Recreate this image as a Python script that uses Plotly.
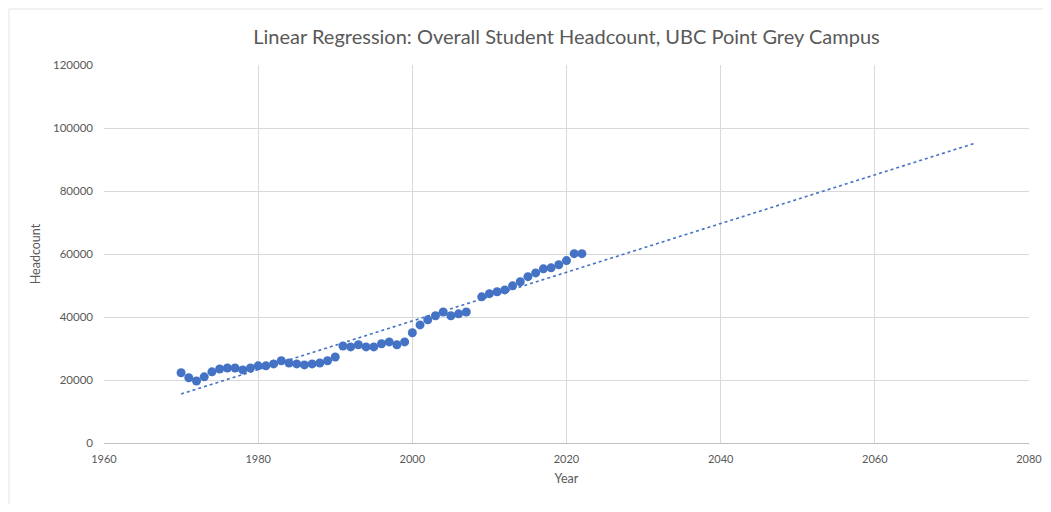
import numpy as np
import plotly.graph_objects as go

years = [1970, 1971, 1972, 1973, 1974, 1975, 1976, 1977, 1978, 1979,
         1980, 1981, 1982, 1983, 1984, 1985, 1986, 1987, 1988, 1989,
         1990, 1991, 1992, 1993, 1994, 1995, 1996, 1997, 1998, 1999,
         2000, 2001, 2002, 2003, 2004, 2005, 2006, 2007,
         2009, 2010, 2011, 2012, 2013, 2014, 2015, 2016, 2017, 2018,
         2019, 2020, 2021, 2022]
headcount = [22300, 20700, 19700, 21000, 22600, 23500, 23800, 23800, 23200, 23800,
             24500, 24500, 25100, 26100, 25400, 25100, 24800, 25100, 25400, 26100,
             27300, 30800, 30500, 31200, 30500, 30500, 31500, 32100, 31200, 32100,
             35000, 37500, 39100, 40400, 41600, 40400, 41000, 41600,
             46400, 47400, 48000, 48600, 49900, 51200, 52800, 54000, 55300, 55600,
             56600, 57900, 60100, 60100]
trend_end_year = 2073

x_ticks = [1960, 1980, 2000, 2020, 2040, 2060, 2080]
y_ticks = [0, 20000, 40000, 60000, 80000, 100000, 120000]
y_tick_labels = [str(v) for v in y_ticks]

slope, intercept = np.polyfit(years, headcount, 1)
trend_x = [years[0], trend_end_year]
trend_y = [slope * v + intercept for v in trend_x]

blue = "#4472C4"
grey_text = "#595959"
font_family = "Lato, 'Open Sans', sans-serif"

W, H = 1035, 496
L, R, T, B = 96, 14, 57, 61
PW, PH = W - L - R, H - T - B

fig = go.Figure()
fig.add_trace(go.Scatter(
    x=trend_x, y=trend_y, mode="lines",
    line=dict(color=blue, width=1.6, dash="dot"),
    showlegend=False, hoverinfo="skip"))
fig.add_trace(go.Scatter(
    x=years, y=headcount, mode="markers",
    marker=dict(color=blue, size=9, line=dict(width=0)),
    showlegend=False))

fig.update_layout(
    width=W, height=H,
    margin=dict(l=L, r=R, t=T, b=B),
    paper_bgcolor="white", plot_bgcolor="white",
    font=dict(family=font_family, color=grey_text, size=11),
    title=dict(text="Linear Regression: Overall Student Headcount, UBC Point Grey Campus",
               x=0.5, xanchor="center", y=1 - 29 / H, yanchor="middle",
               xref="paper",
               font=dict(size=20, color=grey_text, family=font_family)),
    xaxis=dict(range=[1960, 2080], tickvals=x_ticks, showgrid=True,
               gridcolor="#d9d9d9", gridwidth=1, zeroline=False,
               showline=True, linecolor="#bfbfbf", linewidth=1, mirror=False,
               ticks="", tickfont=dict(size=11, color=grey_text),
               ticklabelstandoff=6, automargin=False, ticklabeloverflow="allow",
               title=dict(text="Year", font=dict(size=12.5, color=grey_text), standoff=10)),
    yaxis=dict(range=[0, 120000], tickvals=y_ticks, ticktext=y_tick_labels,
               showgrid=True, gridcolor="#d9d9d9", gridwidth=1, zeroline=False,
               showline=False, ticks="", tickfont=dict(size=11.5, color=grey_text),
               ticklabelstandoff=10, automargin=False,
               title=dict(text="Headcount", font=dict(size=12.5, color=grey_text), standoff=9)),
)
fig.add_shape(type="line", xref="paper", yref="paper",
              x0=-(L - 1) / PW, x1=-(L - 1) / PW, y0=-B / PH, y1=1 + (T - 1) / PH,
              line=dict(color="#e3e3e3", width=1))
fig.add_shape(type="line", xref="paper", yref="paper",
              x0=-(L - 1) / PW, x1=1 + R / PW, y0=1 + (T - 1) / PH, y1=1 + (T - 1) / PH,
              line=dict(color="#e3e3e3", width=1))
fig.write_html("out.html")
